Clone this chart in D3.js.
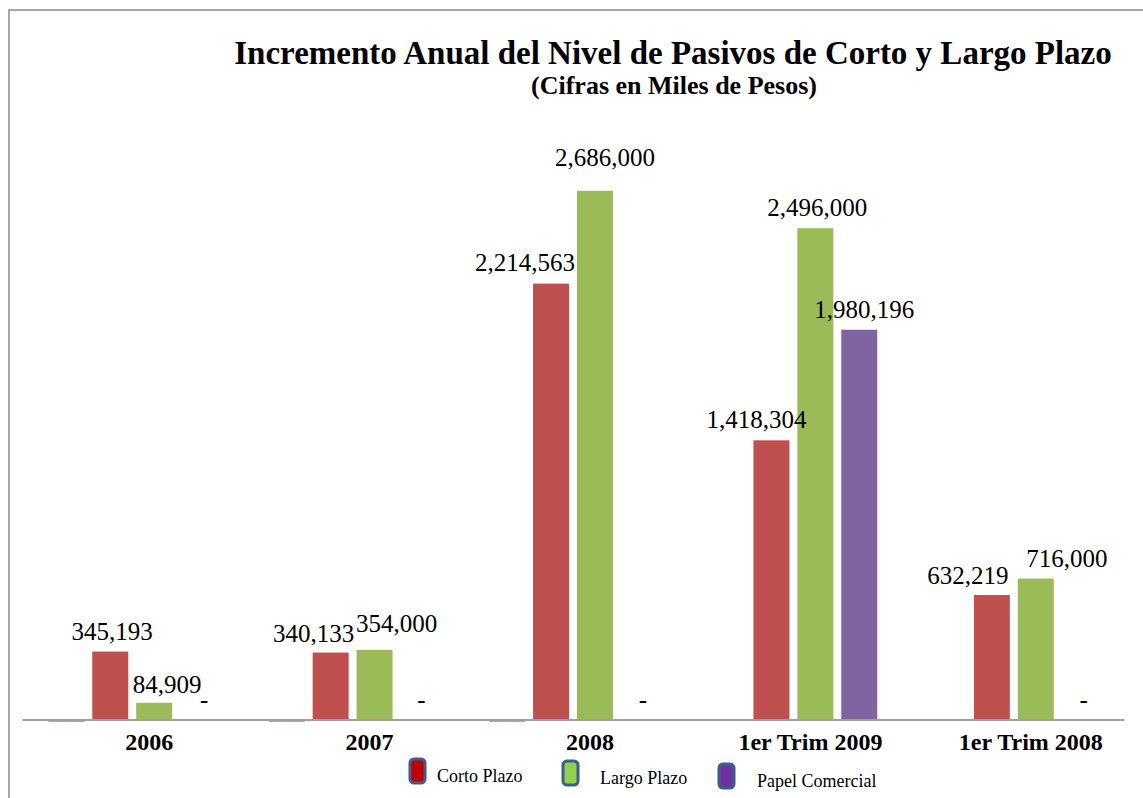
<!DOCTYPE html>
<html>
<head>
<meta charset="utf-8">
<script src="https://cdnjs.cloudflare.com/ajax/libs/d3/7.8.5/d3.min.js"></script>
<style>
  body { margin: 0; background: #fff; }
  svg { display: block; font-family: "Liberation Serif", "Times New Roman", serif; }
</style>
</head>
<body>
<svg width="1143" height="798"></svg>
<script>
// categories and series
var categories = ["2006", "2007", "2008", "1er Trim 2009", "1er Trim 2008"];
var serie0 = [-12000, -12000, -12000, 0, 0];        // serie oculta (sin leyenda)
var cortoPlazo = [345193, 340133, 2214563, 1418304, 632219];
var largoPlazo = [84909, 354000, 2686000, 2496000, 716000];
var papelComercial = [0, 0, 0, 1980196, 0];
var legendNames = ["Corto Plazo", "Largo Plazo", "Papel Comercial"];

var svg = d3.select("svg");

// frame
svg.append("rect")
  .attr("x", 9).attr("y", 10)
  .attr("width", 1200).attr("height", 900)
  .attr("fill", "#fff")
  .attr("stroke", "#a6a6a6")
  .attr("stroke-width", 2);

var series = [
  { key: "s0", values: serie0, color: "#7fa0d2", labels: false },
  { key: "corto", values: cortoPlazo, color: "#c0504d", labels: true },
  { key: "largo", values: largoPlazo, color: "#9bbb59", labels: true },
  { key: "papel", values: papelComercial, color: "#8064a2", labels: true }
];

// label nudges (dx, dy from bar centre / bar top), data labels were moved by hand in the original
var labelShift = {
  corto: [[2, -12], [-17, -11], [-26, -13], [-15, -12], [-24, -11]],
  largo: [[13, -10], [22, -18], [10, -25], [2, -12], [31, -12]],
  papel: [[6, -12], [3, -12], [4, -12], [5, -12], [4, -12]]
};

var x0 = d3.scaleBand()
  .domain(categories)
  .range([22, 1124]);

var x1 = d3.scaleBand()
  .domain(series.map(function(s) { return s.key; }))
  .range([0, x0.bandwidth()])
  .paddingInner(0.18)
  .paddingOuter(0.6);

var y = d3.scaleLinear()
  .domain([0, 3000000])
  .range([719.5, 129]);

var fmt = d3.format(",");

// bars
series.forEach(function(s) {
  svg.append("g").selectAll("rect")
    .data(s.values)
    .enter()
    .append("rect")
    .attr("x", function(d, i) { return x0(categories[i]) + x1(s.key); })
    .attr("y", function(d) { return Math.min(y(d), y(0)); })
    .attr("width", x1.bandwidth())
    .attr("height", function(d) { return Math.abs(y(d) - y(0)); })
    .attr("fill", s.color);
});

// x axis
var axis = svg.append("g")
  .attr("transform", "translate(0," + y(0) + ")")
  .call(d3.axisBottom(x0).tickSize(0).tickSizeOuter(0));

axis.select(".domain")
  .attr("stroke", "#a0a0a0")
  .attr("stroke-width", 2);

axis.selectAll(".tick text")
  .attr("y", 30)
  .attr("dy", 0)
  .attr("dx", 17)
  .attr("fill", "#000")
  .style("font-family", "'Liberation Serif', serif")
  .style("font-size", "24px")
  .style("font-weight", "bold");

// data labels
series.filter(function(s) { return s.labels; }).forEach(function(s) {
  svg.append("g").selectAll("text")
    .data(s.values)
    .enter()
    .append("text")
    .attr("x", function(d, i) {
      return x0(categories[i]) + x1(s.key) + x1.bandwidth() / 2 + labelShift[s.key][i][0];
    })
    .attr("y", function(d, i) { return y(d) + labelShift[s.key][i][1]; })
    .attr("text-anchor", "middle")
    .style("font-size", "25px")
    .attr("fill", "#000")
    .text(function(d) { return d === 0 ? "-" : fmt(d); });
});

// title
svg.append("text")
  .attr("x", 673)
  .attr("y", 64)
  .attr("text-anchor", "middle")
  .style("font-size", "33px")
  .style("font-weight", "bold")
  .text("Incremento Anual del Nivel de Pasivos de Corto y Largo Plazo");

svg.append("text")
  .attr("x", 674)
  .attr("y", 94)
  .attr("text-anchor", "middle")
  .style("font-size", "26px")
  .style("font-weight", "bold")
  .text("(Cifras en Miles de Pesos)");

// legend
var legendColors = ["#c00000", "#92d050", "#7030a0"];
var legendPos = [[410, 759, 437], [563, 761, 600], [719, 764, 757]];

var legend = svg.selectAll(".legend")
  .data(legendNames)
  .enter()
  .append("g")
  .attr("class", "legend");

legend.append("rect")
  .attr("x", function(d, i) { return legendPos[i][0]; })
  .attr("y", function(d, i) { return legendPos[i][1]; })
  .attr("width", 15)
  .attr("height", 24)
  .attr("rx", 4)
  .attr("fill", function(d, i) { return legendColors[i]; })
  .attr("stroke", "#3d5d8f")
  .attr("stroke-width", 3);

legend.append("text")
  .attr("x", function(d, i) { return legendPos[i][2]; })
  .attr("y", function(d, i) { return legendPos[i][1] + 23; })
  .style("font-size", "18px")
  .text(function(d) { return d; });
</script>
</body>
</html>
